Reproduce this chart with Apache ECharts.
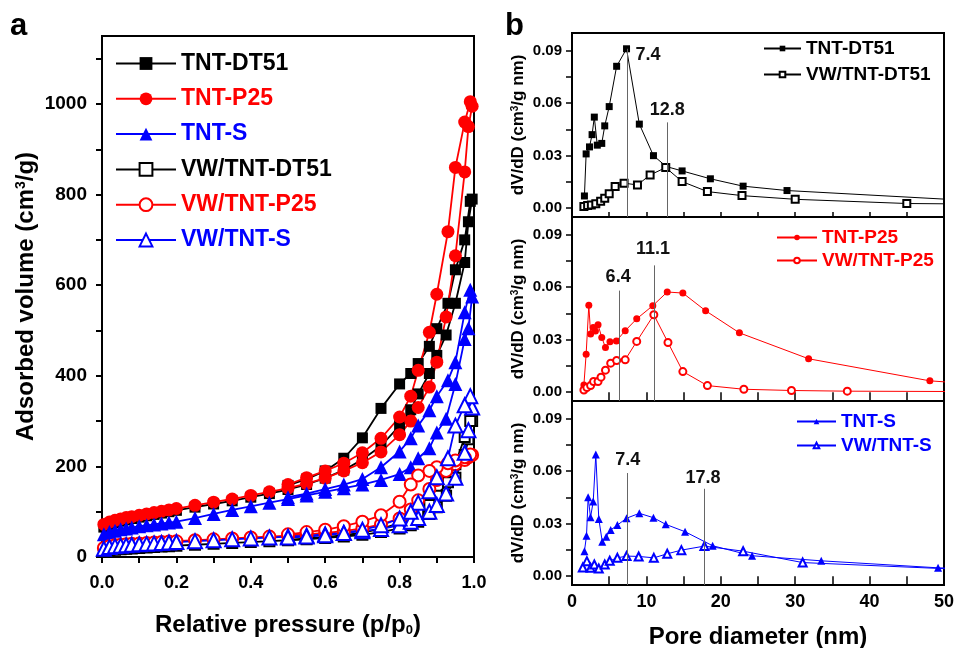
<!DOCTYPE html>
<html><head><meta charset="utf-8">
<script src="https://cdn.jsdelivr.net/npm/echarts@6/dist/echarts.min.js"></script>
<style>html,body{margin:0;padding:0;background:#fff}#c{width:955px;height:648px}</style>
</head><body><div id="c"></div>
<script>
// ---------- Panel a: N2 isotherms ----------
const P_ADS = [0.005,0.02,0.035,0.05,0.065,0.08,0.1,0.12,0.14,0.16,0.18,0.2,0.25,0.3,0.35,0.4,0.45,0.5,0.55,0.6,0.65,0.7,0.75,0.8,0.83,0.85,0.88,0.9,0.925,0.95,0.975,0.985,0.995];
const P_DES = [0.99,0.975,0.95,0.93,0.9,0.88,0.85,0.83,0.8,0.75,0.7,0.65,0.6,0.55,0.5];

const DT51_ADS = [66,72,76,79,82,85,88,91,94,97,100,103,110,117,124,132,140,149,160,174,192,215,245,290,325,360,405,445,490,560,650,740,790];
const DT51_DES = [785,700,634,560,504,465,427,405,382,328,263,218,190,172,158];
const P25_ADS = [72,77,81,84,87,89,92,95,98,101,104,107,114,121,128,136,144,152,162,174,190,208,232,270,300,330,375,430,530,665,850,950,995];
const P25_DES = [1005,960,860,718,580,496,412,355,309,262,230,207,190,175,160];
const S_ADS = [50,55,58,61,63,65,68,70,72,74,76,78,86,95,104,112,120,128,136,144,152,160,170,183,198,218,240,275,305,382,481,505,575];
const S_DES = [590,540,430,390,355,324,290,262,233,198,172,160,150,140,132];
const VDT51_ADS = [12,14,16,17,18,19,20,21,22,23,24,25,27,29,31,33,35,37,39,42,45,49,55,63,70,78,95,110,135,175,225,260,300];
const VDT51_DES = [300,265,205,165,135,115,97,87,75,62,54,48,44,41,38];
const VP25_ADS = [20,24,26,27,28,29,30,31,32,33,34,35,37,39,41,43,45,47,50,53,57,63,72,85,105,125,150,170,190,205,214,220,225];
const VP25_DES = [226,220,213,207,198,190,180,160,122,92,78,68,60,55,50];
const VS_ADS = [18,22,24,25,26,27,28,29,30,31,32,33,35,37,39,41,43,45,47,50,53,57,62,70,78,86,100,115,140,175,230,280,330];
const VS_DES = [355,335,290,218,176,145,120,100,85,70,60,53,48,45,43];

const LEFT_X_TICKS = [0,0.1,0.2,0.3,0.4,0.5,0.6,0.7,0.8,0.9,1.0];
const LEFT_X_LABELS = [0,0.2,0.4,0.6,0.8,1.0];
const LEFT_Y_TICKS = [0,100,200,300,400,500,600,700,800,900,1000,1100];
const LEFT_Y_LABELS = [0,200,400,600,800,1000];

// ---------- Panel b: pore size distributions ----------
const D_DT51 = [1.67,1.9,2.35,2.7,3.0,3.4,4.0,4.4,5.0,6.0,7.33,9.05,10.95,12.67,14.8,18.6,23.0,28.9,60];
const V_DT51 = [0.007,0.031,0.035,0.042,0.052,0.036,0.037,0.047,0.058,0.081,0.091,0.048,0.030,0.0238,0.0213,0.0168,0.0126,0.0101,0.0029];
const D_VDT51 = [1.6,2.1,2.6,3.2,3.85,4.4,5.0,5.8,7.0,8.8,10.5,12.6,14.8,18.2,22.85,30.0,45.0,60];
const V_VDT51 = [0.001,0.0015,0.0019,0.0025,0.004,0.0057,0.0082,0.0124,0.0143,0.0133,0.019,0.0232,0.0152,0.0095,0.0072,0.0051,0.0027,0.0022];
const D_P25 = [1.6,1.9,2.26,2.5,2.85,3.15,3.5,4.0,4.5,5.1,5.97,7.15,8.7,10.86,12.8,14.9,17.96,22.5,31.8,48.1,60];
const V_P25 = [0.0042,0.0217,0.0496,0.0332,0.037,0.035,0.0385,0.0313,0.0255,0.0288,0.0293,0.0351,0.0419,0.0494,0.0572,0.0566,0.0465,0.0339,0.0191,0.0065,0.0030];
const D_VP25 = [1.6,2.0,2.5,2.9,3.5,3.9,4.5,5.2,6.0,7.15,8.7,11.0,12.9,14.9,18.2,23.1,29.5,37.0,60];
const V_VP25 = [0.0013,0.0027,0.0038,0.0061,0.0061,0.0086,0.0126,0.0166,0.0181,0.0185,0.029,0.0442,0.0284,0.0118,0.0038,0.0017,0.001,0.0006,0.0003];
const D_S = [1.67,1.95,2.17,2.49,2.85,3.2,3.6,4.07,4.6,5.2,6.1,7.33,9.05,10.95,12.6,15.2,18.9,24.2,33.5,49.2,60];
const V_S = [0.0143,0.0231,0.0451,0.0336,0.0426,0.0694,0.0327,0.0197,0.0225,0.0264,0.0292,0.0331,0.0359,0.0334,0.0296,0.0254,0.0174,0.0117,0.0088,0.0048,0.0035];
const D_VS = [1.45,2.0,2.5,3.0,3.6,4.4,5.07,6.1,7.33,8.96,11.0,12.8,14.7,17.8,23.0,31.0,60];
const V_VS = [0.005,0.0086,0.0048,0.0067,0.0044,0.0067,0.0088,0.0105,0.0115,0.0113,0.0105,0.0128,0.0149,0.0172,0.0143,0.0078,0.0025];

const RIGHT_X_TICKS = [0,5,10,15,20,25,30,35,40,45,50];
const RIGHT_X_LABELS = [0,10,20,30,40,50];
const RIGHT_Y_TICKS = [0,0.015,0.03,0.045,0.06,0.075,0.09];
const RIGHT_Y_LABELS = [0,0.03,0.06,0.09];

// annotation: [line x, line top, label x, label y, text]
const ANN_1 = [[7.4,0.091,10.2,0.0875,'7.4'],[12.8,0.049,12.8,0.056,'12.8']];
const ANN_2 = [[6.4,0.058,6.2,0.066,'6.4'],[11.1,0.0724,10.9,0.0815,'11.1']];
const ANN_3 = [[7.4,0.0589,7.5,0.0665,'7.4'],[17.8,0.0499,17.6,0.056,'17.8']];

const FONT = "'Liberation Sans', Arial, Helvetica, sans-serif";
const BLACK = '#000000', RED = '#ff0000', BLUE = '#0000ff';

const zip = (xs, ys) => xs.map((x, i) => [x, ys[i]]);
const iso = (a, d) => zip(P_ADS, a).concat(zip(P_DES, d));

const LEFT = [
  {name:'TNT-DT51', data: iso(DT51_ADS, DT51_DES), color: BLACK, symbol:'rect', size:11},
  {name:'TNT-P25', data: iso(P25_ADS, P25_DES), color: RED, symbol:'circle', size:13},
  {name:'TNT-S', data: iso(S_ADS, S_DES), color: BLUE, symbol:'triangle', size:14},
  {name:'VW/TNT-DT51', data: iso(VDT51_ADS, VDT51_DES), color: BLACK, symbol:'emptyRect', size:10},
  {name:'VW/TNT-P25', data: iso(VP25_ADS, VP25_DES), color: RED, symbol:'emptyCircle', size:12},
  {name:'VW/TNT-S', data: iso(VS_ADS, VS_DES), color: BLUE, symbol:'emptyTriangle', size:14}
];
const RIGHT = [
  {panel:1, name:'TNT-DT51', data: zip(D_DT51, V_DT51), color: BLACK, symbol:'rect', size:7, ann: ANN_1},
  {panel:1, name:'VW/TNT-DT51', data: zip(D_VDT51, V_VDT51), color: BLACK, symbol:'emptyRect', size:7},
  {panel:2, name:'TNT-P25', data: zip(D_P25, V_P25), color: RED, symbol:'circle', size:7, ann: ANN_2},
  {panel:2, name:'VW/TNT-P25', data: zip(D_VP25, V_VP25), color: RED, symbol:'emptyCircle', size:7},
  {panel:3, name:'TNT-S', data: zip(D_S, V_S), color: BLUE, symbol:'triangle', size:8, ann: ANN_3},
  {panel:3, name:'VW/TNT-S', data: zip(D_VS, V_VS), color: BLUE, symbol:'emptyTriangle', size:8}
];

const bold = (size, color) => ({fontFamily: FONT, fontWeight: 'bold', fontSize: size, color: color || '#000'});

const grids = [
  {left:102, top:36, width:372, height:521},
  {left:572, top:33, width:372, height:184},
  {left:572, top:217, width:372, height:184},
  {left:572, top:401, width:372, height:184}
].map(g => Object.assign(g, {show:true, borderColor:'#000', borderWidth:2, backgroundColor:'transparent', containLabel:false, outerBoundsMode:'none'}));

const xAxes = [
  {gridIndex:0, type:'value', min:0, max:1, position:'bottom',
   axisLine:{show:true, onZero:false, lineStyle:{color:'#000', width:2}},
   axisTick:{show:true, inside:false, length:6, lineStyle:{color:'#000', width:2}, customValues: LEFT_X_TICKS},
   axisLabel:Object.assign(bold(18), {margin:17, customValues: LEFT_X_LABELS, formatter: v => Number(v).toFixed(1)}),
   splitLine:{show:false},
   name:'{t|Relative pressure (p/p}{s|0}{t|)}', nameLocation:'middle', nameGap:56,
   nameTextStyle:{rich:{t:bold(24), s:Object.assign(bold(13), {verticalAlign:'bottom', padding:[10,0,0,0]})}}}
];
for (let k = 1; k <= 3; k++) {
  xAxes.push({gridIndex:k, type:'value', min:0, max:50, position:'bottom',
    axisLine:{show:true, onZero:false, lineStyle:{color:'#000', width:2}},
    axisTick:{show:true, inside:true, length:5, lineStyle:{color:'#000', width:1.5}, customValues: RIGHT_X_TICKS},
    axisLabel: k === 3 ? Object.assign(bold(18), {margin:8, customValues: RIGHT_X_LABELS, formatter: v => String(v)}) : {show:false},
    splitLine:{show:false},
    name: k === 3 ? 'Pore diameter (nm)' : '', nameLocation:'middle', nameGap:40,
    nameTextStyle: bold(24)});
}
for (let k = 2; k <= 3; k++) {
  xAxes.push({gridIndex:k, type:'value', min:0, max:50, position:'top',
    axisLine:{show:false}, axisTick:{show:true, inside:true, length:5, lineStyle:{color:'#000', width:1.5}, customValues: RIGHT_X_TICKS},
    axisLabel:{show:false}, splitLine:{show:false}});
}

const yAxes = [
  {gridIndex:0, type:'value', min:0, max:1150,
   axisLine:{show:true, onZero:false, lineStyle:{color:'#000', width:2}},
   axisTick:{show:true, inside:false, length:6, lineStyle:{color:'#000', width:2}, customValues: LEFT_Y_TICKS},
   axisLabel:Object.assign(bold(19), {margin:15, customValues: LEFT_Y_LABELS, formatter: v => String(v)}),
   splitLine:{show:false},
   name:'{t|Adsorbed volume (cm}{u|3}{t|/g)}', nameLocation:'middle', nameGap:64,
   nameTextStyle:{rich:{t:bold(24), u:Object.assign(bold(14), {verticalAlign:'top'})}}}
];
for (let k = 1; k <= 3; k++) {
  yAxes.push({gridIndex:k, type:'value', min:-0.005, max:0.1,
    axisLine:{show:true, onZero:false, lineStyle:{color:'#000', width:2}},
    axisTick:{show:true, inside:false, length:6, lineStyle:{color:'#000', width:1.5}, customValues: RIGHT_Y_TICKS},
    axisLabel:Object.assign(bold(15), {margin:10, customValues: RIGHT_Y_LABELS, formatter: v => Number(v).toFixed(2)}),
    splitLine:{show:false},
    name:'{t|dV/dD (cm}{u|3}{t|/g nm)}', nameLocation:'middle', nameGap:45,
    nameTextStyle:{rich:{t:bold(17), u:Object.assign(bold(10), {verticalAlign:'top'})}}});
}

const series = [];
LEFT.forEach(s => series.push({
  type:'line', name:s.name, xAxisIndex:0, yAxisIndex:0, data:s.data,
  symbol:s.symbol, symbolSize:s.size, showAllSymbol:true, animation:false,
  lineStyle:{color:s.color, width:1.8}, itemStyle:{color:s.color, borderWidth: s.symbol.startsWith('empty') ? 1.5 : 0}
}));
RIGHT.forEach(s => {
  const o = {
    type:'line', name:'b' + s.panel + ':' + s.name, xAxisIndex:s.panel, yAxisIndex:s.panel, data:s.data,
    symbol:s.symbol, symbolSize:s.size, showAllSymbol:true, animation:false, clip:true,
    lineStyle:{color:s.color, width:1}, itemStyle:{color:s.color, borderWidth: s.symbol.startsWith('empty') ? 1 : 0}
  };
  if (s.ann) {
    o.markLine = {silent:true, symbol:['none','none'], animation:false,
      lineStyle:{color:'#666', width:1, type:'solid'}, label:{show:false},
      data: s.ann.map(a => [{coord:[a[0], a[1]]}, {coord:[a[0], -0.005]}])};
    o.markPoint = {silent:true, symbol:'circle', symbolSize:1, animation:false,
      itemStyle:{color:'rgba(0,0,0,0)'},
      label:Object.assign(bold(18, '#111'), {show:true, position:'inside', formatter: p => p.name}),
      data: s.ann.map(a => ({name:a[4], coord:[a[2], a[3]]}))};
  }
  series.push(o);
});

const mkLegend = (items, left, top, iw, ih, gap, fs, prefix, bw) => ({
  show:true, orient:'vertical', left:left, top:top, padding:0, itemWidth:iw, itemHeight:ih, itemGap:gap,
  selectedMode:false,
  formatter: n => prefix ? n.replace(/^b\d:/, '') : n,
  textStyle: bold(fs),
  data: items.map(s => ({name:(prefix || '') + s.name, textStyle:{color:s.textColor || s.color},
    itemStyle: bw ? {borderWidth: bw} : undefined}))
});

const legends = [
  mkLegend(LEFT, 115, 52, 60, 16, 12.3, 23, ''),
  mkLegend(RIGHT.filter(s => s.panel === 1).map(s => Object.assign({}, s, {textColor:BLACK})), 763, 39, 37, 7, 7, 19, 'b1:', 1),
  mkLegend(RIGHT.filter(s => s.panel === 2), 776, 228, 40, 7, 4, 19, 'b2:', 1),
  mkLegend(RIGHT.filter(s => s.panel === 3), 796, 412, 39, 7, 5, 19, 'b3:', 1)
];

const chart = echarts.init(document.getElementById('c'), null, {renderer:'canvas'});
chart.setOption({
  backgroundColor:'#ffffff',
  animation:false,
  grid: grids, xAxis: xAxes, yAxis: yAxes, series: series, legend: legends,
  graphic: [
    {type:'text', left:10, top:11, style:{text:'a', font:'bold 31px ' + FONT, fill:'#000'}},
    {type:'text', left:505, top:11, style:{text:'b', font:'bold 31px ' + FONT, fill:'#000'}}
  ]
});
</script></body></html>
